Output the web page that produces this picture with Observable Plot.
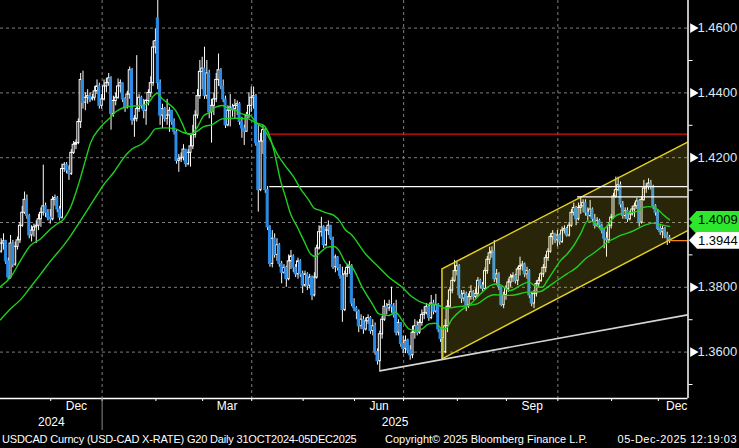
<!DOCTYPE html>
<html><head><meta charset="utf-8">
<script src="https://cdn.jsdelivr.net/npm/d3@7"></script>
<script src="https://cdn.jsdelivr.net/npm/@observablehq/plot@0.6"></script>
<style>
html,body{margin:0;padding:0;background:#000;}
#wrap{position:relative;width:739px;height:448px;overflow:hidden;background:#000;font-family:"Liberation Sans",Arial,sans-serif;}
#chart svg{display:block;}
.ft{position:absolute;top:433px;font-size:11px;line-height:12px;color:#fff;white-space:nowrap;}
.tag{position:absolute;left:689px;width:50px;height:17px;box-sizing:border-box;padding-left:9px;
  font-size:13px;line-height:17px;color:#000;white-space:nowrap;
  clip-path:polygon(0 50%, 8px 0, 100% 0, 100% 100%, 8px 100%);}
</style></head><body>
<div id="wrap"><div id="chart"></div>
<span class="ft" id="f1" style="left:2px;letter-spacing:-0.18px"></span>
<span class="ft" id="f2" style="left:385px"></span>
<span class="ft" id="f3" style="right:2px;letter-spacing:0.5px"></span>
</div>
<script>
// ---- daily candles, trading-day index 0 = 31 Oct 2024 ... 286 = 05 Dec 2025
const close = [
1.3935,1.3942,1.3880,1.3830,1.3935,1.3870,1.3925,1.3945,1.3990,1.4030,
1.4070,1.4020,1.3960,1.3975,1.3985,1.3990,1.4010,1.4030,1.4050,1.4030,
1.4015,1.4010,1.4070,1.4075,1.4040,1.4015,1.4165,1.4178,1.4160,1.4150,
1.4215,1.4240,1.4245,1.4310,1.4440,1.4370,1.4385,1.4390,1.4380,1.4385,
1.4405,1.4420,1.4360,1.4380,1.4420,1.4430,1.4445,1.4335,1.4375,1.4385,
1.4420,1.4430,1.4380,1.4355,1.4395,1.4470,1.4315,1.4320,1.4350,1.4385,
1.4360,1.4345,1.4375,1.4400,1.4430,1.4540,1.4560,1.4430,1.4330,1.4350,
1.4320,1.4330,1.4345,1.4310,1.4280,1.4190,1.4195,1.4200,1.4225,1.4180,
1.4215,1.4235,1.4270,1.4330,1.4390,1.4465,1.4475,1.4390,1.4460,1.4340,
1.4360,1.4380,1.4440,1.4470,1.4420,1.4380,1.4300,1.4345,1.4355,1.4350,
1.4360,1.4365,1.4310,1.4290,1.4280,1.4330,1.4360,1.4385,1.4390,1.4245,
1.4100,1.4250,1.4285,1.4100,1.3985,1.3872,1.3950,1.3900,1.3930,1.3872,
1.3845,1.3860,1.3825,1.3880,1.3895,1.3860,1.3840,1.3880,1.3840,1.3805,
1.3840,1.3805,1.3830,1.3775,1.3830,1.3920,1.3970,1.3985,1.3930,1.3975,
1.3990,1.3950,1.3862,1.3892,1.3860,1.3835,1.3730,1.3840,1.3860,1.3865,
1.3750,1.3735,1.3725,1.3680,1.3700,1.3670,1.3695,1.3705,1.3665,1.3680,
1.3600,1.3572,1.3655,1.3700,1.3740,1.3735,1.3745,1.3740,1.3715,1.3660,
1.3690,1.3625,1.3610,1.3635,1.3605,1.3590,1.3660,1.3680,1.3660,1.3690,
1.3715,1.3720,1.3740,1.3705,1.3750,1.3725,1.3745,1.3670,1.3640,1.3600,
1.3680,1.3740,1.3790,1.3820,1.3850,1.3865,1.3775,1.3765,1.3780,1.3745,
1.3770,1.3785,1.3770,1.3780,1.3820,1.3805,1.3795,1.3850,1.3885,1.3905,
1.3910,1.3825,1.3840,1.3800,1.3745,1.3775,1.3795,1.3815,1.3830,1.3835,
1.3820,1.3855,1.3865,1.3870,1.3840,1.3850,1.3775,1.3750,1.3780,1.3810,
1.3820,1.3840,1.3860,1.3890,1.3910,1.3955,1.3965,1.3945,1.3960,1.3940,
1.3975,1.3980,1.3960,1.3990,1.4030,1.4045,1.4010,1.4045,1.4050,1.4060,
1.4030,1.4020,1.4040,1.4010,1.3990,1.4005,1.3990,1.3975,1.3950,1.3945,
1.3990,1.4015,1.4080,1.4100,1.4115,1.4055,1.4020,1.4035,1.4010,1.4025,
1.4040,1.4050,1.4065,1.4000,1.4070,1.4105,1.4110,1.4120,1.4110,1.4050,
1.4030,1.3980,1.3970,1.3980,1.3960,1.3952,1.3944];
const high = [
1.3950,1.3965,1.3945,1.3890,1.3960,1.3945,1.3940,1.3955,1.4000,1.4050,
1.4094,1.4085,1.4025,1.3990,1.3995,1.4005,1.4025,1.4045,1.4177,1.4060,
1.4040,1.4040,1.4080,1.4085,1.4080,1.4050,1.4180,1.4185,1.4185,1.4175,
1.4225,1.4250,1.4255,1.4320,1.4460,1.4467,1.4400,1.4410,1.4400,1.4395,
1.4420,1.4440,1.4430,1.4395,1.4440,1.4445,1.4460,1.4450,1.4390,1.4400,
1.4443,1.4440,1.4430,1.4385,1.4405,1.4480,1.4475,1.4330,1.4515,1.4395,
1.4390,1.4380,1.4380,1.4410,1.4450,1.4560,1.4598,1.4793,1.4440,1.4365,
1.4355,1.4380,1.4355,1.4345,1.4320,1.4285,1.4210,1.4215,1.4240,1.4225,
1.4225,1.4270,1.4300,1.4345,1.4410,1.4500,1.4510,1.4541,1.4500,1.4470,
1.4380,1.4400,1.4460,1.4520,1.4475,1.4440,1.4390,1.4360,1.4395,1.4365,
1.4380,1.4375,1.4370,1.4325,1.4300,1.4340,1.4400,1.4418,1.4418,1.4395,
1.4300,1.4275,1.4300,1.4290,1.4111,1.3990,1.3975,1.3965,1.3950,1.3935,
1.3880,1.3870,1.3865,1.3900,1.3914,1.3900,1.3870,1.3890,1.3885,1.3850,
1.3850,1.3845,1.3840,1.3835,1.3845,1.3930,1.3990,1.4016,1.3990,1.3985,
1.4005,1.3985,1.3955,1.3900,1.3895,1.3870,1.3862,1.3850,1.3870,1.3880,
1.3870,1.3765,1.3740,1.3730,1.3715,1.3710,1.3705,1.3715,1.3710,1.3700,
1.3690,1.3610,1.3665,1.3710,1.3760,1.3750,1.3760,1.3800,1.3750,1.3760,
1.3700,1.3690,1.3650,1.3650,1.3640,1.3620,1.3680,1.3700,1.3695,1.3700,
1.3730,1.3740,1.3750,1.3745,1.3775,1.3760,1.3778,1.3750,1.3675,1.3645,
1.3700,1.3760,1.3800,1.3830,1.3883,1.3880,1.3870,1.3790,1.3790,1.3785,
1.3780,1.3805,1.3790,1.3795,1.3830,1.3825,1.3815,1.3860,1.3895,1.3924,
1.3925,1.3944,1.3855,1.3845,1.3800,1.3785,1.3805,1.3825,1.3840,1.3845,
1.3840,1.3862,1.3893,1.3880,1.3875,1.3862,1.3855,1.3785,1.3790,1.3820,
1.3830,1.3845,1.3870,1.3900,1.3920,1.3965,1.3975,1.3965,1.3975,1.3965,
1.3986,1.3990,1.3985,1.4000,1.4040,1.4060,1.4050,1.4060,1.4078,1.4070,
1.4070,1.4045,1.4068,1.4045,1.4025,1.4015,1.4010,1.3995,1.3980,1.3970,
1.4000,1.4025,1.4090,1.4140,1.4140,1.4125,1.4065,1.4045,1.4045,1.4035,
1.4050,1.4060,1.4075,1.4070,1.4080,1.4130,1.4120,1.4135,1.4130,1.4115,
1.4055,1.4040,1.3990,1.3990,1.3985,1.3970,1.3960];
const low = [
1.3905,1.3915,1.3870,1.3822,1.3825,1.3860,1.3865,1.3915,1.3935,1.3985,
1.4025,1.4010,1.3950,1.3940,1.3955,1.3935,1.3975,1.3985,1.4020,1.4015,
1.4005,1.3995,1.4005,1.4050,1.4030,1.4005,1.4010,1.4155,1.4150,1.4130,
1.4145,1.4210,1.4225,1.4240,1.4290,1.4350,1.4345,1.4365,1.4370,1.4375,
1.4375,1.4395,1.4350,1.4350,1.4375,1.4400,1.4420,1.4285,1.4325,1.4360,
1.4380,1.4400,1.4370,1.4340,1.4350,1.4380,1.4300,1.4263,1.4310,1.4340,
1.4350,1.4320,1.4300,1.4360,1.4385,1.4420,1.4520,1.4410,1.4300,1.4290,
1.4310,1.4300,1.4278,1.4300,1.4270,1.4180,1.4155,1.4185,1.4190,1.4170,
1.4175,1.4171,1.4225,1.4260,1.4320,1.4380,1.4410,1.4380,1.4380,1.4320,
1.4245,1.4330,1.4370,1.4420,1.4410,1.4370,1.4290,1.4295,1.4295,1.4325,
1.4320,1.4330,1.4300,1.4260,1.4238,1.4280,1.4320,1.4340,1.4350,1.4235,
1.4032,1.4095,1.4210,1.4090,1.3975,1.3862,1.3860,1.3890,1.3880,1.3862,
1.3811,1.3840,1.3800,1.3820,1.3855,1.3845,1.3830,1.3825,1.3830,1.3781,
1.3800,1.3790,1.3795,1.3759,1.3770,1.3825,1.3915,1.3955,1.3920,1.3925,
1.3960,1.3945,1.3855,1.3845,1.3850,1.3825,1.3692,1.3725,1.3830,1.3840,
1.3740,1.3725,1.3700,1.3660,1.3670,1.3655,1.3665,1.3685,1.3655,1.3650,
1.3590,1.3560,1.3541,1.3640,1.3695,1.3715,1.3725,1.3720,1.3705,1.3650,
1.3650,1.3615,1.3595,1.3595,1.3595,1.3575,1.3580,1.3640,1.3650,1.3655,
1.3680,1.3700,1.3715,1.3695,1.3700,1.3715,1.3720,1.3660,1.3630,1.3580,
1.3595,1.3660,1.3735,1.3780,1.3815,1.3835,1.3765,1.3750,1.3755,1.3725,
1.3735,1.3760,1.3760,1.3765,1.3770,1.3795,1.3785,1.3790,1.3840,1.3870,
1.3890,1.3815,1.3805,1.3790,1.3740,1.3734,1.3760,1.3785,1.3800,1.3815,
1.3810,1.3805,1.3835,1.3850,1.3830,1.3825,1.3765,1.3740,1.3734,1.3770,
1.3800,1.3815,1.3830,1.3845,1.3880,1.3905,1.3930,1.3935,1.3925,1.3930,
1.3935,1.3965,1.3955,1.3955,1.3985,1.4020,1.3990,1.4005,1.4025,1.4030,
1.4020,1.4005,1.4015,1.4000,1.3980,1.3985,1.3980,1.3965,1.3919,1.3893,
1.3935,1.3980,1.4010,1.4075,1.4095,1.4045,1.4010,1.4010,1.4000,1.4005,
1.4020,1.4015,1.4040,1.3986,1.3995,1.4065,1.4090,1.4100,1.4100,1.4040,
1.4020,1.3975,1.3960,1.3950,1.3950,1.3929,1.3935];
// opens equal the prior close except at these gaps
const gapIdx  = [0, 67];
const gapOpen = [1.3910, 1.4630];

// moving averages (index, value)
const fastIdx = [-0.3,4,8.3,12.5,16.8,21.1,24,26.8,29.7,31.8,34,36,38.2,42.5,46.8,48.9,54.6,60.3,63.2,65.3,66.7,68.9,71.7,74.6,77.5,79.6,81.4,83.9,86.7,89.6,91.7,94.6,97.4,100.3,102.4,106.7,108.8,112.4,114.5,116.7,119.5,121.7,123.8,126.7,129.5,132.4,134.5,136.6,139.5,142.4,144.5,147.3,150.2,154.5,158.8,161.6,165.9,168.7,171.6,174.4,177.3,180.2,183,185.9,188.7,190.1,193,196.6,198.7,200.9,205.1,209.4,212.3,217.9,222.2,225.8,229.4,231.5,233.7,236.5,239.4,242.2,245,247.9,251,254,256.5,258.6,260.8,262.2,265,267.9,270.7,272.9,275,277.1,279.3,281.4,283.6,286];
const fastVal = [1.3802,1.3831,1.3883,1.3929,1.3949,1.3980,1.3996,1.4011,1.4047,1.4089,1.4140,1.4191,1.4245,1.4294,1.4325,1.4341,1.4358,1.4361,1.4371,1.4392,1.4399,1.4382,1.4366,1.4346,1.4305,1.4274,1.4272,1.4294,1.4330,1.4341,1.4356,1.4361,1.4351,1.4346,1.4337,1.4330,1.4310,1.4299,1.4274,1.4222,1.4130,1.4078,1.4027,1.3986,1.3944,1.3903,1.3895,1.3908,1.3924,1.3926,1.3914,1.3876,1.3862,1.3800,1.3749,1.3718,1.3713,1.3723,1.3698,1.3672,1.3667,1.3672,1.3687,1.3689,1.3672,1.3672,1.3703,1.3728,1.3739,1.3749,1.3780,1.3806,1.3811,1.3790,1.3806,1.3816,1.3800,1.3800,1.3821,1.3852,1.3883,1.3903,1.3929,1.3965,1.4005,1.4000,1.3980,1.3984,1.4004,1.4016,1.4027,1.4029,1.4032,1.4037,1.4047,1.4049,1.4047,1.4037,1.4022,1.4008];
const slowIdx = [-0.3,4,8.3,12.5,16.8,21,26.8,30,33,37,41,44,48.2,51,53.2,56,60.3,63.2,66,70.3,74.6,77.5,80.3,83.2,86.7,90.3,94.6,100.3,105.3,109.5,112.4,115.2,118.1,120.9,125.2,128.1,131.7,133.8,136.6,139.5,142.4,145.2,147.3,149.5,155.9,161.6,165.9,171.6,175.9,181.6,187.3,190.1,194.4,198.7,203.7,208,210.8,217.9,225.1,230.8,233.7,237.9,242.2,246,250,254,257,259.3,262.2,265,267.9,270.7,273.6,276.4,278.6,280.7,283.6,286];
const slowVal = [1.3700,1.3734,1.3762,1.3800,1.3840,1.3880,1.3930,1.3962,1.3995,1.4040,1.4085,1.4118,1.4155,1.4185,1.4207,1.4227,1.4243,1.4263,1.4289,1.4292,1.4289,1.4279,1.4274,1.4279,1.4296,1.4302,1.4320,1.4322,1.4320,1.4305,1.4289,1.4253,1.4212,1.4181,1.4140,1.4104,1.4068,1.4045,1.4037,1.4029,1.4022,1.4001,1.3977,1.3965,1.3903,1.3862,1.3831,1.3800,1.3770,1.3749,1.3744,1.3735,1.3739,1.3743,1.3749,1.3770,1.3777,1.3775,1.3785,1.3787,1.3800,1.3821,1.3842,1.3860,1.3888,1.3908,1.3925,1.3939,1.3950,1.3960,1.3967,1.3975,1.3986,1.3994,1.3998,1.3996,1.3991,1.3988];

// drawn studies
const chanIdx = [188.6, 293.7];
const chanUpper = [1.3857, 1.4248];
const chanLower = [1.3579, 1.3975];
const trendIdx = [162.0, 293.7];
const trendVal = [1.3542, 1.3715];
const levelVal = [1.4273, 1.4111, 1.4079];
const levelStart = [113.8, 114.9, 246.6];
const levelColor = ["#e01010", "#ffffff", "#ffffff"];
const lastPrice = 1.3944;
const maLast = [1.4009, 1.3988];

// axes (1.4000 label sits under the value tags)
const yMajorLabeled = [1.36, 1.38, 1.42, 1.44, 1.46];
const yGrid = [1.36, 1.38, 1.40, 1.42, 1.44, 1.46];
const yMinor = [1.35, 1.37, 1.39, 1.41, 1.43, 1.45];
const monthStart = [22, 44, 67, 87, 108, 130, 152, 173, 196, 217, 239, 262, 282];
const monthName = ["Dec","Jan","Feb","Mar","Apr","May","Jun","Jul","Aug","Sep","Oct","Nov","Dec"];
const labeledMonths = [0, 3, 6, 9, 12];
const quarterStart = [44, 108, 173, 239];
const years = ["2024", "2025"];
const footer = ["USDCAD Curncy (USD-CAD X-RATE) G20 Daily 31OCT2024-05DEC2025",
  "Copyright\u00A9 2025 Bloomberg Finance L.P.", "05-Dec-2025 12:19:03"];

// ---- build
const xDom = [-0.3, 293.88];
const yDom = [1.34568, 1.46852];
const B = 0.81; // boundary offset before first trading day of a period
const candles = close.map((c, i) => {
  const g = gapIdx.indexOf(i);
  const o = g >= 0 ? gapOpen[g] : close[i - 1];
  return {i, o, c, hi: Math.max(high[i], o, c), lo: Math.min(low[i], o, c), up: c >= o};
});
const fast = fastIdx.map((x, k) => ({x, y: fastVal[k]}));
const slow = slowIdx.map((x, k) => ({x, y: slowVal[k]}));
const chan = chanIdx.map((x, k) => ({x, lo: chanLower[k], hi: chanUpper[k]}));
const chanEdge = [{x: chanIdx[1], y: chanUpper[1]}, {x: chanIdx[0], y: chanUpper[0]},
                  {x: chanIdx[0], y: chanLower[0]}, {x: chanIdx[1], y: chanLower[1]}];
const trend = trendIdx.map((x, k) => ({x, y: trendVal[k]}));
const levels = levelVal.map((v, k) => ({v, s: levelStart[k], col: levelColor[k]}));

const bounds = monthStart.map(d => d - B);
const monthEnds = monthStart.slice(1).concat([304]);
const labelPos = labeledMonths.map(k => {
  const a = monthStart[k] - B, b = Math.min(monthEnds[k] - B, xDom[1] + 3);
  return (a + b) / 2;
});
const labelMap = new Map(labelPos.map((p, j) => [p, monthName[labeledMonths[j]]]));
const yearPos = [(xDom[0] + quarterStart[0] - B) / 2, (quarterStart[0] - B + xDom[1]) / 2];
const yearMap = new Map(yearPos.map((p, j) => [p, years[j]]));

const grid = "#7d7d7d", green = "#1fcf1f", blue = "#2a8ce8";
const marks = [
  Plot.ruleY(yGrid, {stroke: grid, strokeDasharray: "3,3", strokeWidth: 1}),
  Plot.ruleX(quarterStart.map(d => d - B), {stroke: grid, strokeDasharray: "3,3", strokeWidth: 1}),
  Plot.ruleX(candles, {x: "i", y1: "lo", y2: "hi", stroke: "#fff", strokeWidth: 1, clip: true}),
  Plot.rect(candles.filter(d => d.up), {x1: d => d.i - 0.42, x2: d => d.i + 0.42, y1: "o", y2: "c",
    fill: "#000", stroke: "#fff", strokeWidth: 1, clip: true}),
  Plot.rect(candles.filter(d => !d.up), {x1: d => d.i - 0.42, x2: d => d.i + 0.42, y1: "o", y2: "c",
    fill: blue, stroke: blue, strokeWidth: 1, clip: true}),
  Plot.areaY(chan, {x: "x", y1: "lo", y2: "hi", fill: "#ffe632", fillOpacity: 0.16, clip: true}),
  Plot.line(chanEdge, {x: "x", y: "y", stroke: "#e2cf1e", strokeWidth: 1.5, clip: true}),
  ...levels.map(l => Plot.ruleY([l], {y: "v", x1: "s", x2: xDom[1], stroke: l.col, strokeWidth: 1.2})),
  Plot.line(slow, {x: "x", y: "y", stroke: green, strokeWidth: 1.4, curve: "monotone-x", clip: true}),
  Plot.line(fast, {x: "x", y: "y", stroke: green, strokeWidth: 1.4, curve: "monotone-x", clip: true}),
  Plot.line(trend, {x: "x", y: "y", stroke: "#d4d4d4", strokeWidth: 1.6, clip: true}),
  Plot.ruleY([lastPrice], {x1: 286, x2: xDom[1], stroke: "#ff8c1a", strokeWidth: 1.2}),
  Plot.ruleY([yDom[0]], {stroke: "#fff", strokeWidth: 1.5}),
  Plot.ruleX([xDom[1]], {stroke: "#fff", strokeWidth: 1.5}),
  Plot.axisY(yMinor, {anchor: "right", tickSize: 4, tickFormat: () => "", color: "#fff", label: null}),
  Plot.axisY(yMajorLabeled, {anchor: "right", tickSize: 0, tickPadding: 9.5, tickFormat: d3.format(".4f"),
    fontSize: 13, color: "#dfe7f3", label: null}),
  Plot.dot(yMajorLabeled, {x: xDom[1], y: d => d, symbol: "triangle", r: 3.6, rotate: 90, dx: 5, fill: "#fff", stroke: null}),
  Plot.axisX(bounds, {anchor: "bottom", tickSize: 3, tickFormat: () => "", color: "#fff", label: null}),
  Plot.axisX([quarterStart[0] - B], {anchor: "bottom", tickSize: 32, tickFormat: () => "", color: "#8a8a8a", label: null}),
  Plot.axisX(labelPos, {anchor: "bottom", tickSize: 0, tickPadding: 3, tickFormat: d => labelMap.get(d),
    fontSize: 12, color: "#fff", label: null}),
  Plot.axisX(yearPos, {anchor: "bottom", tickSize: 0, tickPadding: 19, tickFormat: d => yearMap.get(d),
    fontSize: 12, color: "#fff", label: null})
];

const plot = Plot.plot({
  width: 739, height: 432,
  marginTop: 0, marginLeft: 0, marginRight: 51.5, marginBottom: 34,
  style: {background: "#000", color: "#fff", fontFamily: "'Liberation Sans', Arial, sans-serif"},
  x: {domain: xDom, label: null},
  y: {domain: yDom, label: null},
  marks
});
document.getElementById("chart").appendChild(plot);

// value tags in the right margin, positioned with Plot's y scale
const ys = plot.scale("y");
const wrap = document.getElementById("wrap");
function tag(v, bg, showText) {
  const el = document.createElement("div");
  el.className = "tag";
  el.style.top = (ys.apply(v) - 8.5) + "px";
  el.style.background = bg;
  if (showText) el.textContent = d3.format(".4f")(v);
  wrap.appendChild(el);
}
tag(maLast[1], "#2ee62e", false);
tag(lastPrice, "#ffffff", true);
tag(maLast[0], "#2ee62e", true);

document.getElementById("f1").textContent = footer[0];
document.getElementById("f2").textContent = footer[1];
document.getElementById("f3").textContent = footer[2];
</script>
</body></html>
